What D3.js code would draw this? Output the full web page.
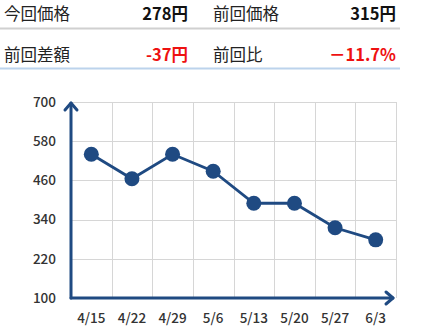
<!DOCTYPE html>
<html><head><meta charset="utf-8">
<script src="https://cdn.jsdelivr.net/npm/d3@7"></script>
<style>
html,body{margin:0;padding:0;background:#fff;}
svg{display:block;}
</style></head>
<body>
<script>
const dates = ["4/15","4/22","4/29","5/6","5/13","5/20","5/27","6/3"];
const prices = [540, 465, 540, 488, 390, 390, 315, 278];
const yTicks = [100, 220, 340, 460, 580, 700];
const summaryLabels = ["今回価格","前回価格","前回差額","前回比"];
const summaryValues = ["278円","315円","-37円","－11.7%"];
const summaryNegative = [false,false,true,true];

(function () {
const W = 428, H = 334;
const navy = "#1f4a82";
const svg = d3.select("body").append("svg").attr("width", W).attr("height", H);

// summary table
const font = "'Noto Sans CJK JP','Noto Sans',sans-serif";
const colL = [4, 213], colR = [188, 396], rowY = [20, 61];
summaryLabels.forEach((lab, i) => {
  const c = i % 2, r = Math.floor(i / 2);
  svg.append("text").attr("x", colL[c]).attr("y", rowY[r])
    .attr("font-family", font).attr("font-size", 16.5).attr("fill", "#222").text(lab);
  svg.append("text").attr("x", colR[c]).attr("y", rowY[r]).attr("text-anchor", "end")
    .attr("font-family", font).attr("font-size", 16.5).attr("font-weight", "bold")
    .attr("fill", summaryNegative[i] ? "#ee1111" : "#111").text(summaryValues[i]);
});
svg.append("line").attr("x1", 0).attr("x2", 400).attr("y1", 28.5).attr("y2", 28.5)
  .attr("stroke", "#d0d0d0").attr("stroke-width", 2);
svg.append("line").attr("x1", 0).attr("x2", 400).attr("y1", 68.5).attr("y2", 68.5)
  .attr("stroke", "#bcd3ec").attr("stroke-width", 2);

// chart
const pLeft = 71, pRight = 396, pTop = 102, pBottom = 298;
const x = d3.scaleBand().domain(dates).range([pLeft, pRight]).padding(0);
const y = d3.scaleLinear().domain([100, 700]).range([pBottom, pTop]);

const grid = svg.append("g").attr("stroke", "#d6d6d6").attr("stroke-width", 1);
yTicks.filter(t => t > 100).forEach(t => {
  grid.append("line").attr("x1", pLeft).attr("x2", pRight)
    .attr("y1", Math.round(y(t)) + 0.5).attr("y2", Math.round(y(t)) + 0.5);
});
dates.forEach(d => {
  const gxp = Math.round(x(d) + x.bandwidth()) + 0.5;
  grid.append("line").attr("x1", gxp).attr("x2", gxp).attr("y1", pTop).attr("y2", pBottom);
});

// axis labels
const yAxis = d3.axisLeft(y).tickValues(yTicks).tickSize(0).tickPadding(15);
const gy = svg.append("g").attr("transform", `translate(${pLeft},0)`).call(yAxis);
gy.select(".domain").remove();
gy.selectAll("text").attr("font-family", font).attr("font-size", 13.5)
  .attr("font-weight", 500).attr("fill", "#333");

const xAxis = d3.axisBottom(x).tickSize(0).tickPadding(15);
const gx = svg.append("g").attr("transform", `translate(0,${pBottom})`).call(xAxis);
gx.select(".domain").remove();
gx.selectAll("text").attr("font-family", font).attr("font-size", 13.5)
  .attr("font-weight", 500).attr("fill", "#333");

// axes with arrows
const ax = svg.append("g").attr("stroke", navy).attr("stroke-width", 3).attr("fill", "none")
  .attr("stroke-linecap", "round").attr("stroke-linejoin", "round");
ax.append("path").attr("d", `M${pLeft},${pBottom} L${pLeft},${pTop + 1}`);
ax.append("path").attr("d", `M${pLeft - 6},${pTop + 8} L${pLeft},${pTop + 1} L${pLeft + 6},${pTop + 8}`);
ax.append("path").attr("d", `M${pLeft},${pBottom} L${pRight - 3},${pBottom}`);
ax.append("path").attr("d", `M${pRight - 10},${pBottom - 6} L${pRight - 3},${pBottom} L${pRight - 10},${pBottom + 6}`);

// line + points
const cx = d => x(d) + x.bandwidth() / 2;
const line = d3.line().x((d, i) => cx(dates[i])).y(d => y(d));
svg.append("path").datum(prices).attr("d", line).attr("fill", "none")
  .attr("stroke", navy).attr("stroke-width", 2.8);
svg.selectAll("circle.pt").data(prices).enter().append("circle")
  .attr("cx", (d, i) => cx(dates[i])).attr("cy", d => y(d)).attr("r", 7.5).attr("fill", navy);
})();
</script>
</body></html>
